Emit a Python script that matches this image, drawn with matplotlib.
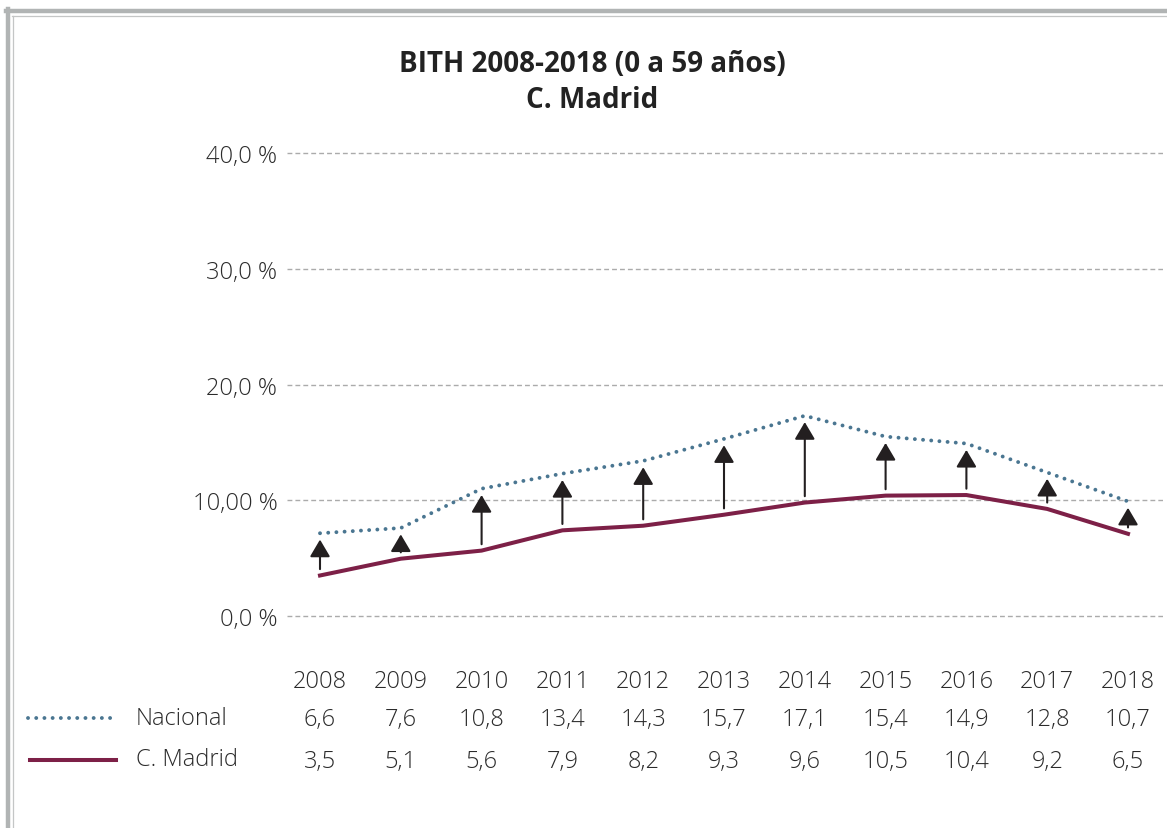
import numpy as np
import matplotlib.pyplot as plt
from matplotlib.lines import Line2D
from matplotlib.patches import FancyArrowPatch
import matplotlib.transforms as mtransforms

plt.rcParams['font.family'] = ['Open Sans', 'DejaVu Sans']

# data
years = [2008, 2009, 2010, 2011, 2012, 2013, 2014, 2015, 2016, 2017, 2018]
#line positions as drawn in the picture
nacional_line = [7.15, 7.6, 11.0, 12.3, 13.4, 15.3, 17.3, 15.5, 14.9, 12.4, 9.9]
madrid_line = [3.5, 4.95, 5.65, 7.4, 7.8, 8.75, 9.8, 10.4, 10.45, 9.25, 7.1]
#values printed in the table
nacional_lbl = ['6,6', '7,6', '10,8', '13,4', '14,3', '15,7', '17,1', '15,4', '14,9', '12,8', '10,7']
madrid_lbl = ['3,5', '5,1', '5,6', '7,9', '8,2', '9,3', '9,6', '10,5', '10,4', '9,2', '6,5']
yticks = [0, 10, 20, 30, 40]
ytick_lbl = ['0,0 %', '10,00 %', '20,0 %', '30,0 %', '40,0 %']

W, H = 1167, 829
c_nac = '#4a7691'
c_mad = '#7d2047'
c_txt = '#2b2b2b'
fs = 17
fw = 'light'

fig = plt.figure(figsize=(W/100, H/100), dpi=100)

#axes placed so that 0 -> 617px and 40 -> 154px
ppu = (617-154)/40.0
y0, y1 = -1.0, 41.0
bot = 617 + ppu*1.0
top = 154 - ppu*1.0
ax = fig.add_axes([287/W, 1-bot/H, (1163-287)/W, (bot-top)/H])
ax.set_ylim(y0, y1)
ax.set_xlim(2008 - 33/80.8, 2018 + 35/80.8)

for s in ax.spines.values():
    s.set_visible(False)
ax.set_xticks([])
ax.set_yticks(yticks)
ax.set_yticklabels(ytick_lbl, fontsize=fs, color=c_txt, fontweight=fw)
ax.tick_params(axis='y', length=0, pad=7)
for v in yticks:
    ax.axhline(v, color='#ababab', lw=1.0, dashes=(3.5, 2.2), zorder=1)

ax.plot(years, nacional_line, color=c_nac, lw=2.8, dashes=(0.01, 2.1),
        dash_capstyle='round', zorder=3)
ax.plot(years, madrid_line, color=c_mad, lw=2.9, solid_joinstyle='miter', zorder=3)

gap = 0.55
for x, a, b in zip(years, madrid_line, nacional_line):
    arr = FancyArrowPatch((x, a+gap), (x, b-gap),
                          arrowstyle='-|>,head_length=1.05,head_width=0.62',
                          mutation_scale=10, lw=1.5, color='#231f20',
                          shrinkA=0, shrinkB=0, zorder=4)
    ax.add_patch(arr)

#title
fig.text(592/W, 1-65/H, 'BITH 2008-2018 (0 a 59 años)', ha='center', va='center',
         fontsize=20, fontweight='bold', color='#222222')
fig.text(592/W, 1-100/H, 'C. Madrid', ha='center', va='center',
         fontsize=20, fontweight='bold', color='#222222')

#table under the chart
trans = mtransforms.blended_transform_factory(ax.transData, fig.transFigure)
for i, yr in enumerate(years):
    ax.text(yr, 1-682/H, str(yr), transform=trans, ha='center', va='center',
            fontsize=fs, fontweight=fw, color=c_txt, clip_on=False)
    ax.text(yr, 1-720/H, nacional_lbl[i], transform=trans, ha='center', va='center',
            fontsize=fs, fontweight=fw, color=c_txt, clip_on=False)
    ax.text(yr, 1-762/H, madrid_lbl[i], transform=trans, ha='center', va='center',
            fontsize=fs, fontweight=fw, color=c_txt, clip_on=False)

fig.text(136/W, 1-719/H, 'Nacional', ha='left', va='center', fontsize=fs,
         fontweight=fw, color=c_txt)
fig.text(136/W, 1-760/H, 'C. Madrid', ha='left', va='center', fontsize=fs,
         fontweight=fw, color=c_txt)
fig.add_artist(Line2D([28/W, 118/W], [1-719/H, 1-719/H], color=c_nac, lw=2.8,
                      dashes=(0.01, 2.1), dash_capstyle='round'))
fig.add_artist(Line2D([30/W, 116/W], [1-761/H, 1-761/H], color=c_mad, lw=2.9))

#double frame on top and left
fig.add_artist(Line2D([8/W, 8/W], [0, 1-10/H], color='#b1b4b4', lw=3.2))
fig.add_artist(Line2D([6/W, 1], [1-12/H, 1-12/H], color='#b1b4b4', lw=3.2))
fig.add_artist(Line2D([12.5/W, 12.5/W], [0, 1-16.5/H], color='#c4c6c6', lw=0.9))
fig.add_artist(Line2D([12/W, 1], [1-16.5/H, 1-16.5/H], color='#c4c6c6', lw=0.9))

fig.savefig('out.png', dpi=100)
